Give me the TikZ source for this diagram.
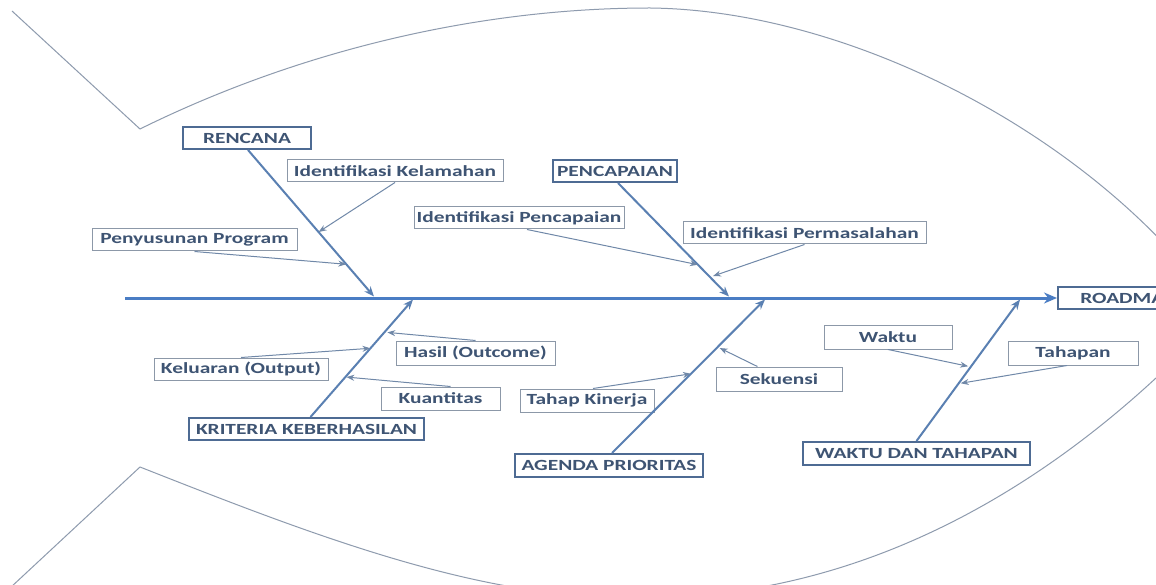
\documentclass[tikz,border=0pt]{standalone}
\usepackage{fontspec}
\setmainfont{Carlito}[FakeStretch=1.38]
\usetikzlibrary{arrows.meta,calc}
\definecolor{spinec}{HTML}{4A7DC4}
\definecolor{bonec}{HTML}{5A80B2}
\definecolor{twigc}{HTML}{7088A8}
\definecolor{mainbd}{HTML}{4E6B93}
\definecolor{subbd}{HTML}{8C98A8}
\definecolor{txtc}{HTML}{3E5473}
\definecolor{fishc}{HTML}{8E9BAE}
\begin{document}
\begin{tikzpicture}[x=1pt,y=-1pt,
  lbl/.style={font=\fontsize{15.5}{18}\selectfont\bfseries, text=txtc, inner sep=0pt, minimum height=22pt, align=center},
  mainbox/.style={lbl, draw=mainbd, line width=2pt},
  subbox/.style={lbl, draw=subbd, line width=1pt},
  spineline/.style={draw=spinec, line width=3pt, -{Stealth[length=13pt,width=11pt]}},
  bonearrow/.style={draw=bonec, line width=2pt, -{Stealth[length=10pt,width=8pt]}},
  twigarrow/.style={draw=twigc, line width=1pt, -{Stealth[length=8pt,width=6pt]}},
  fishline/.style={draw=fishc, line width=1pt}]
\fill[white] (0,0) rectangle (1156,585);
\useasboundingbox (0,0) rectangle (1156,585);

% fish outline
\draw[fishline] (12,11) -- (140,129)
  .. controls (300,50) and (480,8) .. (650,8)
  .. controls (830,10) and (1040,110) .. (1170,250);
\draw[fishline] (10,588) -- (140,467)
  .. controls (300,530) and (470,597) .. (620,597)
  .. controls (820,605) and (1010,520) .. (1175,360);

% boxes
\node[mainbox, minimum width=128pt] (ren) at (247,138) {RENCANA};
\node[subbox, minimum width=216pt] (idk) at (395,171) {Identifikasi Kelamahan};
\node[subbox, minimum width=205pt] (pp) at (194.5,240) {Penyusunan Program};
\node[mainbox, minimum width=124pt] (pen) at (615,171) {PENCAPAIAN};
\node[subbox, minimum width=210pt] (ipc) at (519,218) {Identifikasi Pencapaian};
\node[subbox, minimum width=243pt] (ipm) at (804.5,233) {Identifikasi Permasalahan};
\node[mainbox, minimum width=140pt] (road) at (1128,298) {ROADMAP};
\node[subbox, minimum width=128pt, minimum height=24pt] (wak) at (888,337) {Waktu};
\node[subbox, minimum width=130pt, minimum height=24pt] (tah) at (1073,353) {Tahapan};
\node[subbox, minimum width=159pt, minimum height=24pt] (has) at (475.5,353) {Hasil (Outcome)};
\node[subbox, minimum width=174pt] (kel) at (241,369) {Keluaran (Output)};
\node[subbox, minimum width=119pt, minimum height=23pt] (kua) at (440.5,398.5) {Kuantitas};
\node[subbox, minimum width=134pt, minimum height=23pt] (tk) at (587,400.5) {Tahap Kinerja};
\node[subbox, minimum width=126pt, minimum height=24pt] (sek) at (779,379) {Sekuensi};
\node[mainbox, minimum width=235pt] (kri) at (306.5,429) {KRITERIA KEBERHASILAN};
\node[mainbox, minimum width=188pt, minimum height=23pt] (age) at (609,465.5) {AGENDA PRIORITAS};
\node[mainbox, minimum width=227pt, minimum height=23pt] (wdt) at (916.5,453.5) {WAKTU DAN TAHAPAN};

% spine
\coordinate (sp0) at (125,298);
\draw[spineline] (sp0) -- (road.west);

% spine points
\coordinate (s1) at (374,296.5);
\coordinate (s2) at (413,299.5);
\coordinate (s3) at (729,296.5);
\coordinate (s4) at (765,299.5);
\coordinate (s5) at (1020,299.5);

% bone starts
\coordinate (b1) at ($(ren.south)+(1,0)$);
\coordinate (b2) at ($(kri.north)+(4,0)$);
\coordinate (b3) at ($(pen.south)+(3,0)$);
\coordinate (b4) at ($(age.north)+(3,0)$);
\coordinate (b5) at (wdt.north);

% bones
\draw[bonearrow] (b1) -- (s1);
\draw[bonearrow] (b2) -- (s2);
\draw[bonearrow] (b3) -- (s3);
\draw[bonearrow] (b4) -- (s4);
\draw[bonearrow] (b5) -- (s5);

% twig targets on bones
\coordinate (t1) at ($(b1)!0.56!(s1)$);
\coordinate (t2) at ($(b1)!0.78!(s1)$);
\coordinate (t3) at ($(b3)!0.72!(s3)$);
\coordinate (t4) at ($(b3)!0.82!(s3)+(4,0)$);
\coordinate (t5) at ($(b2)!0.72!(s2)+(3,0)$);
\coordinate (t6) at ($(b2)!0.585!(s2)$);
\coordinate (t7) at ($(b2)!0.34!(s2)+(1,0)$);
\coordinate (t8) at ($(b4)!0.684!(s4)+(3,0)$);
\coordinate (t9) at ($(b4)!0.516!(s4)$);
\coordinate (t10) at ($(b5)!0.528!(s5)-(3,0)$);
\coordinate (t11) at ($(b5)!0.408!(s5)+(2,0)$);

% twigs
\draw[twigarrow] (idk.south) -- (t1);
\draw[twigarrow] (pp.south) -- (t2);
\draw[twigarrow] ($(ipc.south)+(8,0)$) -- (t3);
\draw[twigarrow] (ipm.south) -- (t4);
\draw[twigarrow] (has.north) -- (t5);
\draw[twigarrow] (kel.north) -- (t6);
\draw[twigarrow] ($(kua.north)+(10,0)$) -- (t7);
\draw[twigarrow] ($(sek.north west)!0.33!(sek.north east)$) -- (t8);
\draw[twigarrow] ($(tk.north)+(6,0)$) -- (t9);
\draw[twigarrow] (wak.south) -- (t10);
\draw[twigarrow] ($(tah.south)-(6,0)$) -- (t11);
\end{tikzpicture}
\end{document}
